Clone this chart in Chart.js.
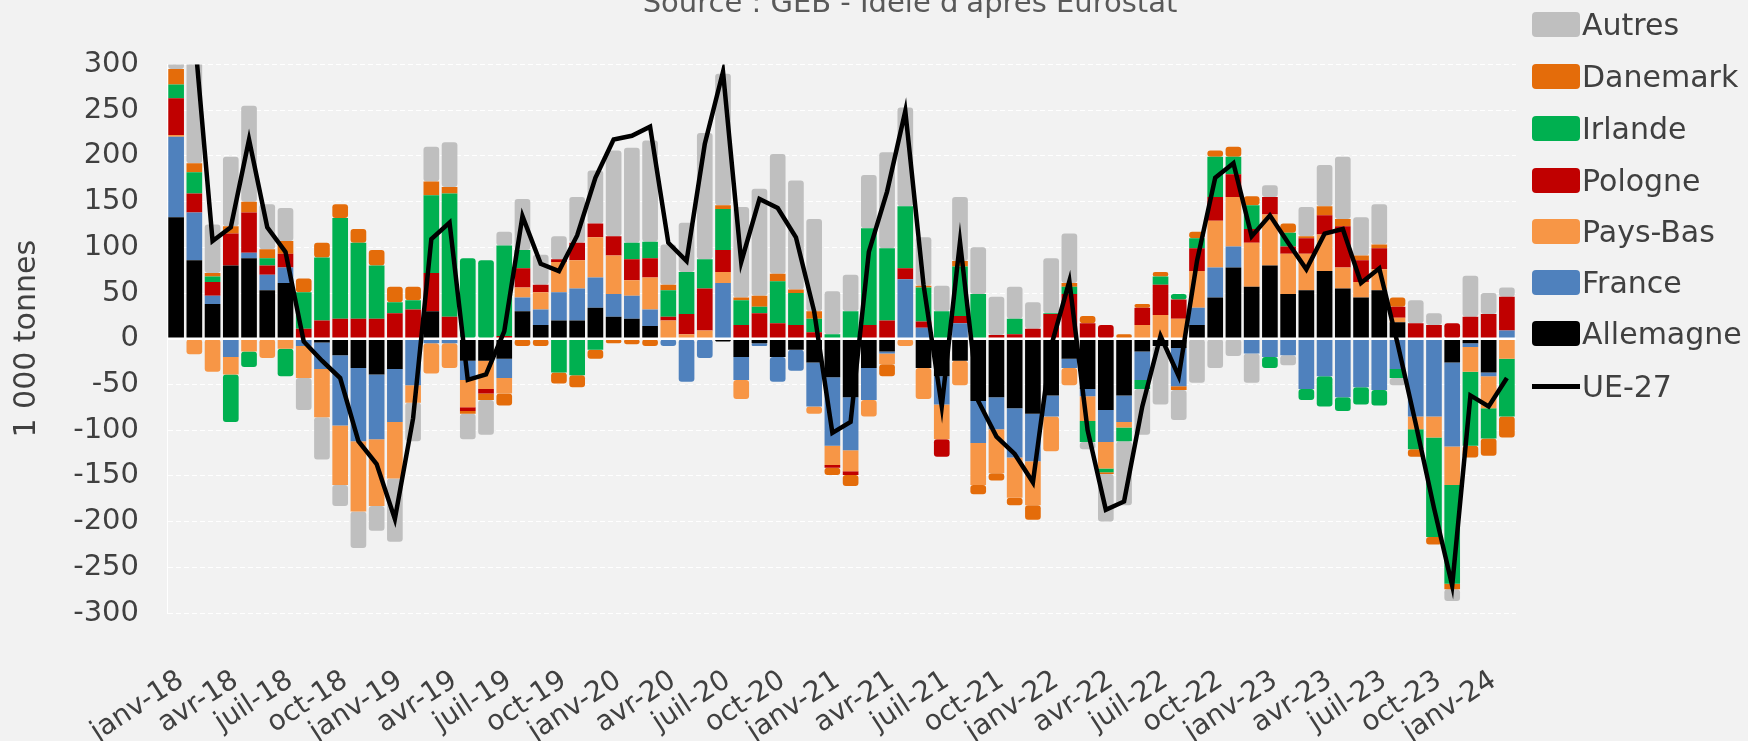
<!DOCTYPE html>
<html>
<head>
<meta charset="utf-8">
<script src="https://cdn.jsdelivr.net/npm/chart.js@4"></script>
<style>
  body { margin: 0; background: #f2f2f2; }
  #wrap { position: relative; width: 1748px; height: 741px; overflow: hidden;
          font-family: "DejaVu Sans", sans-serif; color: #404040; }
  #source { position: absolute; top: -15px; left: 910px; transform: translateX(-50%);
            font-size: 29px; white-space: nowrap; color: #595959; }
  #legend { position: absolute; left: 1532px; top: 0; }
  .item { position: absolute; left: 0; height: 34px; display: flex; align-items: center;
          white-space: nowrap; font-size: 30px; }
  .sw { width: 48px; height: 25px; border-radius: 4px; margin-right: 2px; }
  .ln { width: 48px; height: 5px; background: #000; margin-right: 2px; }
</style>
</head>
<body>
<div id="wrap">
  <canvas id="chart" width="1748" height="741"></canvas>
  <div id="source">Source : GEB - Idele d'après Eurostat</div>
  <div id="legend"></div>
</div>
<script>
// mois (janv-18 -> févr-24)
const mois = [
  "janv-18","févr-18","mars-18","avr-18","mai-18","juin-18","juil-18","août-18","sept-18","oct-18","nov-18","déc-18",
  "janv-19","févr-19","mars-19","avr-19","mai-19","juin-19","juil-19","août-19","sept-19","oct-19","nov-19","déc-19",
  "janv-20","févr-20","mars-20","avr-20","mai-20","juin-20","juil-20","août-20","sept-20","oct-20","nov-20","déc-20",
  "janv-21","févr-21","mars-21","avr-21","mai-21","juin-21","juil-21","août-21","sept-21","oct-21","nov-21","déc-21",
  "janv-22","févr-22","mars-22","avr-22","mai-22","juin-22","juil-22","août-22","sept-22","oct-22","nov-22","déc-22",
  "janv-23","févr-23","mars-23","avr-23","mai-23","juin-23","juil-23","août-23","sept-23","oct-23","nov-23","déc-23",
  "janv-24","févr-24"
];

// 1 000 tonnes
const allemagne = [133,86,38,80,88,53,61,0,-4,-18,-32,-39, -33,0,30,0,-24,-24,-22,30,15,20,20,34,
  24,22,14,0,0,0,-3,-20,-5,-20,-12,-26, -42,-64,-32,-14,0,-32,-41,-24,-68,-64,-76,-82,
  -62,-22,-55,-78,-62,-14,-8,-10,15,45,78,57, 80,49,53,74,55,45,53,18,0,0,-26,-5, -37,0];
const france = [88,52,9,-20,6,17,17,-8,-29,-77,-80,-71, -58,-51,-5,-5,-21,0,-21,15,17,31,35,33,
  25,25,18,-8,-47,-21,61,-25,-3,-27,-23,-48, -75,-58,-35,-2,65,12,-31,17,-46,-35,-54,-52,
  -23,-10,-8,-35,-29,-31,0,-42,19,33,23,-16, -20,-18,-55,-41,-64,-53,-56,-33,-85,-85,-92,-4, -4,9];
const paysBas = [2,-17,-36,-19,-14,-21,-11,-35,-53,-65,-77,-73, -62,-19,-33,-27,-30,-31,-17,11,19,33,31,44,
  42,17,35,20,5,9,12,-21,0,0,0,-8, -21,-23,-18,-12,-8,-34,-38,-27,-46,-48,-44,-48,
  -38,-19,-27,-29,-6,15,26,22,40,51,54,48, 56,44,40,40,23,17,23,5,-14,-23,-42,-27, -35,-22];
const pologne = [40,21,15,35,44,10,15,11,20,22,22,22, 28,32,42,24,-4,-5,3,21,8,3,19,15,
  21,23,21,4,22,46,24,15,28,17,15,7, -3,-4,15,20,12,7,-19,8,0,4,5,11,
  27,49,17,15,0,19,33,21,25,26,25,15, 19,8,17,21,45,24,23,12,17,15,17,24, 27,37];
const irlande = [15,23,6,-52,-17,8,-30,40,69,110,83,58, 12,10,85,135,88,86,99,20,0,-37,-40,-12,
  0,18,18,29,46,32,45,27,7,46,35,15, 5,30,106,79,68,37,30,54,49,0,17,0,
  1,8,-23,-4,-15,-10,9,6,11,44,19,26, -12,15,-12,-33,-15,-19,-17,-10,-22,-109,-108,-81, -33,-63];
const danemark = [17,10,4,8,12,10,14,15,16,15,15,17, 17,15,15,7,-3,-7,-13,-8,-8,-12,-13,-10,
  -5,-6,-8,6,0,0,4,3,12,8,4,8, -8,-12,0,-13,0,2,0,6,-10,-8,-8,-16,
  0,4,8,-2,5,4,5,-4,7,7,11,10, 0,10,2,10,8,5,4,10,-8,-8,-6,-13, -19,-23];
const autres = [60,160,53,76,105,49,36,-35,-46,-23,-40,-27, -69,-42,38,49,-28,-38,15,56,33,25,50,58,
  94,104,111,44,54,138,144,99,117,131,119,101, 47,40,58,105,108,53,28,70,51,42,35,29,
  60,54,-8,-52,-70,-50,-64,-33,-48,-32,-19,-32, 13,-11,32,45,68,42,44,-8,25,13,-13,45, 23,10];
const ue27 = [350,335,107,122,218,122,95,-3,-24,-43,-112,-137, -197,-87,109,127,-45,-39,8,134,82,74,113,176,
  218,222,232,105,85,213,292,84,153,143,111,30, -103,-91,95,161,249,59,-74,106,-68,-107,-126,-157,
  -8,63,-100,-187,-178,-74,3,-41,85,176,192,112, 135,105,76,115,120,61,77,-5,-93,-185,-270,-62, -74,-43];

const pays = [
  { label: "Allemagne", data: allemagne, color: "#000000" },
  { label: "France", data: france, color: "#4f81bd" },
  { label: "Pays-Bas", data: paysBas, color: "#f79646" },
  { label: "Pologne", data: pologne, color: "#c00000" },
  { label: "Irlande", data: irlande, color: "#00b050" },
  { label: "Danemark", data: danemark, color: "#e46c0a" },
  { label: "Autres", data: autres, color: "#bfbfbf" }
];

const police = "'DejaVu Sans', sans-serif";
const gris = "#404040";

// ligne blanche du zéro, sous la courbe UE-27
const zeroLine = {
  id: "zeroLine",
  beforeDatasetDraw(chart, args) {
    if (args.index !== 0) return;
    const { ctx, chartArea, scales } = chart;
    const y = scales.y.getPixelForValue(0);
    ctx.save();
    ctx.strokeStyle = "#ffffff";
    ctx.lineWidth = 2.5;
    ctx.beginPath();
    ctx.moveTo(chartArea.left, y);
    ctx.lineTo(chartArea.right, y);
    ctx.stroke();
    ctx.restore();
  }
};

const datasets = [{
  type: "line",
  label: "UE-27",
  data: ue27,
  stack: "ue",
  borderColor: "#000000",
  borderWidth: 4.5,
  pointRadius: 0,
  tension: 0,
  fill: false
}].concat(pays.map(p => ({
  type: "bar",
  label: p.label,
  data: p.data,
  stack: "pays",
  backgroundColor: p.color,
  borderWidth: 0,
  borderRadius: 3,
  borderSkipped: false,
  barPercentage: 0.86,
  categoryPercentage: 1
})));

new Chart(document.getElementById("chart"), {
  data: { labels: mois, datasets },
  options: {
    responsive: false,
    animation: false,
    layout: { padding: { top: 64.5, right: 232, bottom: 0, left: 0 } },
    plugins: { legend: { display: false }, tooltip: { enabled: false } },
    scales: {
      x: {
        stacked: true,
        grid: { display: false, drawTicks: false },
        border: { display: false },
        ticks: {
          autoSkip: false, minRotation: 33, maxRotation: 33,
          padding: 51, labelOffset: 5,
          color: gris, font: { family: police, size: 28 },
          callback(v, i) { return i % 3 === 0 ? this.getLabelForValue(v) : ""; }
        },
        afterFit(s) { s.height = 128; }
      },
      y: {
        stacked: true, min: -300, max: 300,
        grid: { color: "#ffffff", lineWidth: 1, drawTicks: false },
        border: { display: true, color: "#ffffff", dash: [5, 3] },
        ticks: { stepSize: 50, padding: 28, color: gris, font: { family: police, size: 29 } },
        title: { display: true, text: "1 000 tonnes", color: gris,
                 font: { family: police, size: 30 }, padding: { top: 9, bottom: 0 } },
        afterFit(s) { s.width = 167; }
      }
    }
  },
  plugins: [zeroLine]
});

// légende à droite
const legendItems = pays.slice().reverse().map(p => ({ label: p.label, color: p.color }))
  .concat([{ label: "UE-27", line: true }]);
const centres = [24.5, 76, 128, 180, 231, 282, 333, 386];
const legend = document.getElementById("legend");
legendItems.forEach((it, i) => {
  const row = document.createElement("div");
  row.className = "item";
  row.style.top = (centres[i] - 17) + "px";
  const mark = document.createElement("span");
  if (it.line) {
    mark.className = "ln";
  } else {
    mark.className = "sw";
    mark.style.background = it.color;
  }
  row.appendChild(mark);
  row.appendChild(document.createTextNode(it.label));
  legend.appendChild(row);
});
</script>
</body>
</html>
